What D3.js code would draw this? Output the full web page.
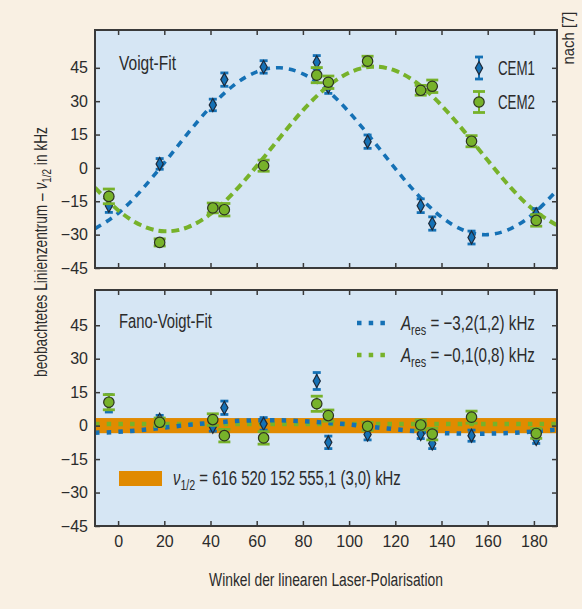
<!DOCTYPE html>
<html>
<head>
<meta charset="utf-8">
<script src="https://cdn.jsdelivr.net/npm/d3@7/dist/d3.min.js"></script>
<style>
  body { margin: 0; background: #f9f0e3; }
  svg { display: block; }
  text { font-family: "Liberation Sans", Arial, sans-serif; fill: #2b2b2b; }
</style>
</head>
<body>
<div id="chart"></div>
<script>
// 數據：角度（度）
const angles = [-4, 18, 41, 46, 63, 86, 91, 108, 131, 136, 153, 181];

// 上圖 Voigt-Fit
const cem1Voigt    = [-17, 1.8, 28.3, 39.7, 45.4, 47.5, 36.5, 11.8, -17, -25, -31.3, -20.8];
const cem1VoigtErr = [3, 2.4, 2.6, 3, 2.8, 3, 3, 3, 3.1, 3, 2.9, 2.5];
const cem2Voigt    = [-12.8, -33.5, -18, -18.8, 1, 41.7, 38.5, 48, 34.9, 36.7, 12, -23.6];
const cem2VoigtErr = [3.3, 1.6, 2.2, 2.8, 2.5, 3.4, 2.8, 2.2, 2.2, 2.8, 2.5, 2.6];

// 下圖 Fano-Voigt-Fit
const cem1Fano    = [10, 2.6, -0.5, 8, 0.8, 20, -7.5, -4, -3.8, -8, -4.5, -6];
const cem1FanoErr = [3.9, 2, 2, 3, 2.8, 3.8, 2.8, 2.4, 2, 2.3, 2.5, 2];
const cem2Fano    = [10.5, 1.5, 2.7, -4.5, -5.5, 9.8, 4.5, -0.3, 0.3, -3.8, 3.8, -3.5];
const cem2FanoErr = [3.4, 1.9, 2.6, 2.8, 2.8, 3.4, 2.5, 1.8, 2.2, 2.6, 2.7, 2.2];

// 擬合曲線（從圖上讀取的點）
const fitAngles = [-10, 0, 10, 20, 30, 40, 50, 60, 70, 80, 90, 100, 110, 120, 130, 140, 150, 160, 170, 180, 190];
const cem1VoigtFit = [-27.3, -20.4, -10.1, 2.3, 15.3, 27.4, 37.1, 43.2, 45.0, 42.3, 35.4, 25.1, 12.7, -0.3, -12.4, -22.1, -28.2, -30.0, -27.3, -20.4, -10.1];
const cem2VoigtFit = [-8.9, -19.0, -25.8, -28.5, -26.7, -20.7, -11.1, 0.8, 13.6, 25.9, 36.0, 42.8, 45.5, 43.7, 37.7, 28.1, 16.2, 3.4, -8.9, -19.0, -25.8];
const cem1FanoFit = [-3.2, -2.8, -2.0, -0.9, 0.3, 1.2, 2.0, 2.4, 2.4, 2.0, 1.3, 0.5, -0.6, -1.6, -2.6, -3.3, -3.6, -3.6, -3.3, -2.6, -1.8];
const cem2FanoFit = [0.7, 0.7, 0.7, 0.7, 0.7, 0.7, 0.7, 0.7, 0.7, 0.7, 0.7, 0.7, 0.7, 0.7, 0.7, 0.7, 0.7, 0.7, 0.7, 0.7, 0.7];

// ν1/2 不確定度帶 (kHz)
const bandHalfWidth = 3.4;

const xTickValues = [0, 20, 40, 60, 80, 100, 120, 140, 160, 180];
const yTickValues = [-45, -30, -15, 0, 15, 30, 45];
const legendNames = ["CEM1", "CEM2"];
const aresLabels = ["\u22123,2(1,2) kHz", "\u22120,1(0,8) kHz"];

const blue = "#1571b5";
const green = "#77b22a";
const orange = "#e18a00";
const frame = "#3a3a3a";
const panelBg = "#d6e6f4";

const W = 582, H = 609;
const left = 95, right = 557;

const svg = d3.select("#chart").append("svg").attr("width", W).attr("height", H);
svg.append("rect").attr("width", W).attr("height", H).attr("fill", "#f9f0e3");

const x = d3.scaleLinear().domain([-10, 190]).range([left, right]);

const minus = d => d < 0 ? "\u2212" + Math.abs(d) : String(d);

// 窄字體：先量寬度，再水平縮放到目標寬度
function narrowText(tx, ty, size, width, opts = {}) {
    const g = svg.append("g");
    const t = g.append("text").style("font-size", size + "px");
    if (opts.anchor) t.attr("text-anchor", opts.anchor);
    if (opts.fill) t.attr("fill", opts.fill);
    return {
        t,
        fit() {
            const w = t.node().getComputedTextLength();
            const s = width / w;
            g.attr("transform", `translate(${tx},${ty})${opts.rotate ? " rotate(" + opts.rotate + ")" : ""} scale(${s},1)`);
        }
    };
}

function subText(tx, ty, size, width, parts, opts) {
    const nt = narrowText(tx, ty, size, width, opts);
    parts.forEach(p => {
        const s = nt.t.append("tspan").text(p.text);
        if (p.italic) s.style("font-style", "italic");
        if (p.sub) s.attr("dy", size * 0.22).style("font-size", Math.round(size * 0.72) + "px");
        if (p.back) s.attr("dy", -size * 0.22);
    });
    nt.fit();
}

function makePanel(y0, y1, yMax, id) {
    const y = d3.scaleLinear().domain([-45, yMax]).range([y1, y0]);
    const g = svg.append("g");
    g.append("rect").attr("x", left).attr("y", y0)
        .attr("width", right - left).attr("height", y1 - y0)
        .attr("fill", panelBg);
    svg.append("clipPath").attr("id", id).append("rect")
        .attr("x", left).attr("y", y0).attr("width", right - left).attr("height", y1 - y0);
    return { y, g, y0, y1, clip: `url(#${id})` };
}

function drawFrame(p, withXLabels) {
    const ax = svg.append("g");
    ax.append("g").attr("transform", `translate(${left},0)`)
        .call(d3.axisLeft(p.y).tickValues(yTickValues).tickSizeInner(-5).tickSizeOuter(0).tickPadding(7).tickFormat(minus));
    ax.append("g").attr("transform", `translate(${right},0)`)
        .call(d3.axisRight(p.y).tickValues(yTickValues).tickSizeInner(-5).tickSizeOuter(0).tickFormat(""));
    ax.append("g").attr("transform", `translate(0,${p.y0})`)
        .call(d3.axisTop(x).tickValues(xTickValues).tickSizeInner(-5).tickSizeOuter(0).tickFormat(""));
    ax.append("g").attr("transform", `translate(0,${p.y1})`)
        .call(d3.axisBottom(x).tickValues(xTickValues).tickSizeInner(-5).tickSizeOuter(0).tickPadding(10)
            .tickFormat(withXLabels ? minus : ""));
    ax.selectAll(".domain").remove();
    ax.selectAll(".tick line").attr("stroke", frame).attr("stroke-width", 1.5);
    ax.selectAll(".tick text").style("font-size", "16px").attr("fill", "#2b2b2b")
        .style("font-family", '"Liberation Sans", Arial, sans-serif');
    ax.append("rect").attr("x", left).attr("y", p.y0)
        .attr("width", right - left).attr("height", p.y1 - p.y0)
        .attr("fill", "none").attr("stroke", frame).attr("stroke-width", 2);
}

function drawCurve(p, ys, color, width, dash) {
    const line = d3.line()
        .x((d, i) => x(fitAngles[i]))
        .y(d => p.y(d))
        .curve(d3.curveNatural);
    p.g.append("path").datum(ys)
        .attr("clip-path", p.clip)
        .attr("d", line)
        .attr("fill", "none")
        .attr("stroke", color)
        .attr("stroke-width", width)
        .attr("stroke-dasharray", dash);
}

function errorBar(g, cx, ya, yb, color, capW) {
    g.append("line").attr("x1", cx).attr("x2", cx).attr("y1", ya).attr("y2", yb)
        .attr("stroke", color).attr("stroke-width", 2);
    [ya, yb].forEach(yy => {
        g.append("line").attr("x1", cx - capW / 2).attr("x2", cx + capW / 2)
            .attr("y1", yy).attr("y2", yy)
            .attr("stroke", color).attr("stroke-width", 2.8);
    });
}

function diamond(g, cx, cy) {
    g.append("path")
        .attr("d", `M${cx},${cy - 6.5} L${cx + 3.6},${cy} L${cx},${cy + 6.5} L${cx - 3.6},${cy} Z`)
        .attr("fill", blue).attr("stroke", "#1d2a3a").attr("stroke-width", 1.2);
}

function circle(g, cx, cy) {
    g.append("circle").attr("cx", cx).attr("cy", cy).attr("r", 5.2)
        .attr("fill", green).attr("stroke", "#2c3320").attr("stroke-width", 1.2);
}

function drawPoints(p, v1, e1, v2, e2) {
    const g = p.g.append("g").attr("clip-path", p.clip);
    angles.forEach((a, i) => {
        errorBar(g, x(a), p.y(v1[i] + e1[i]), p.y(v1[i] - e1[i]), blue, 8);
        diamond(g, x(a), p.y(v1[i]));
    });
    angles.forEach((a, i) => {
        errorBar(g, x(a), p.y(v2[i] + e2[i]), p.y(v2[i] - e2[i]), green, 12);
        circle(g, x(a), p.y(v2[i]));
    });
}

// 上圖
const topPanel = makePanel(30, 268, 62, "clipTop");
drawCurve(topPanel, cem1VoigtFit, blue, 3.6, "7,6");
drawCurve(topPanel, cem2VoigtFit, green, 4, "8,5");
drawPoints(topPanel, cem1Voigt, cem1VoigtErr, cem2Voigt, cem2VoigtErr);
drawFrame(topPanel, false);

subText(119, 70, 21, 57, [{ text: "Voigt-Fit" }]);

// 上圖圖例
const leg = svg.append("g");
[0, 1].forEach(i => {
    const ly = 68 + i * 34;
    const lx = 479;
    if (i === 0) {
        errorBar(leg, lx, ly - 11, ly + 11, blue, 8);
        diamond(leg, lx, ly);
    } else {
        errorBar(leg, lx, ly - 10.5, ly + 10.5, green, 12);
        circle(leg, lx, ly);
    }
    subText(498, ly + 7, 20, 37, [{ text: legendNames[i] }]);
});

// 下圖
const botPanel = makePanel(290, 526, 60.8, "clipBot");
botPanel.g.append("rect")
    .attr("x", left).attr("width", right - left)
    .attr("y", botPanel.y(bandHalfWidth)).attr("height", botPanel.y(-bandHalfWidth) - botPanel.y(bandHalfWidth))
    .attr("fill", orange);
drawCurve(botPanel, cem2FanoFit, green, 4.5, "4.5,7.2");
drawCurve(botPanel, cem1FanoFit, blue, 4.5, "4.5,7.2");
drawPoints(botPanel, cem1Fano, cem1FanoErr, cem2Fano, cem2FanoErr);
drawFrame(botPanel, true);

subText(119, 328, 21, 93, [{ text: "Fano-Voigt-Fit" }]);

// 下圖圖例
const leg2 = svg.append("g");
[blue, green].forEach((c, i) => {
    const ly = 323 + i * 32;
    leg2.append("line").attr("x1", 357).attr("x2", 388).attr("y1", ly).attr("y2", ly)
        .attr("stroke", c).attr("stroke-width", 4.5).attr("stroke-dasharray", "4.5,7.2");
    subText(401, ly + 7, 21, 134, [
        { text: "A", italic: true },
        { text: "res", sub: true },
        { text: " = " + aresLabels[i], back: true }
    ]);
});

leg2.append("rect").attr("x", 119).attr("y", 471).attr("width", 43).attr("height", 15).attr("fill", orange);
subText(173, 485, 21, 228, [
    { text: "\u03bd", italic: true },
    { text: "1/2", sub: true },
    { text: " = 616 520 152 555,1 (3,0) kHz", back: true }
]);

// 軸標題
subText(47, 252, 18, 250, [
    { text: "beobachtetes Linienzentrum \u2013 " },
    { text: "\u03bd", italic: true },
    { text: "1/2", sub: true },
    { text: " in kHz", back: true }
], { anchor: "middle", rotate: -90 });

subText(326, 586, 19, 234, [{ text: "Winkel der linearen Laser-Polarisation" }], { anchor: "middle" });

subText(574, 38, 16, 53, [{ text: "nach [7]" }], { anchor: "middle", rotate: -90, fill: "#444" });
</script>
</body>
</html>
